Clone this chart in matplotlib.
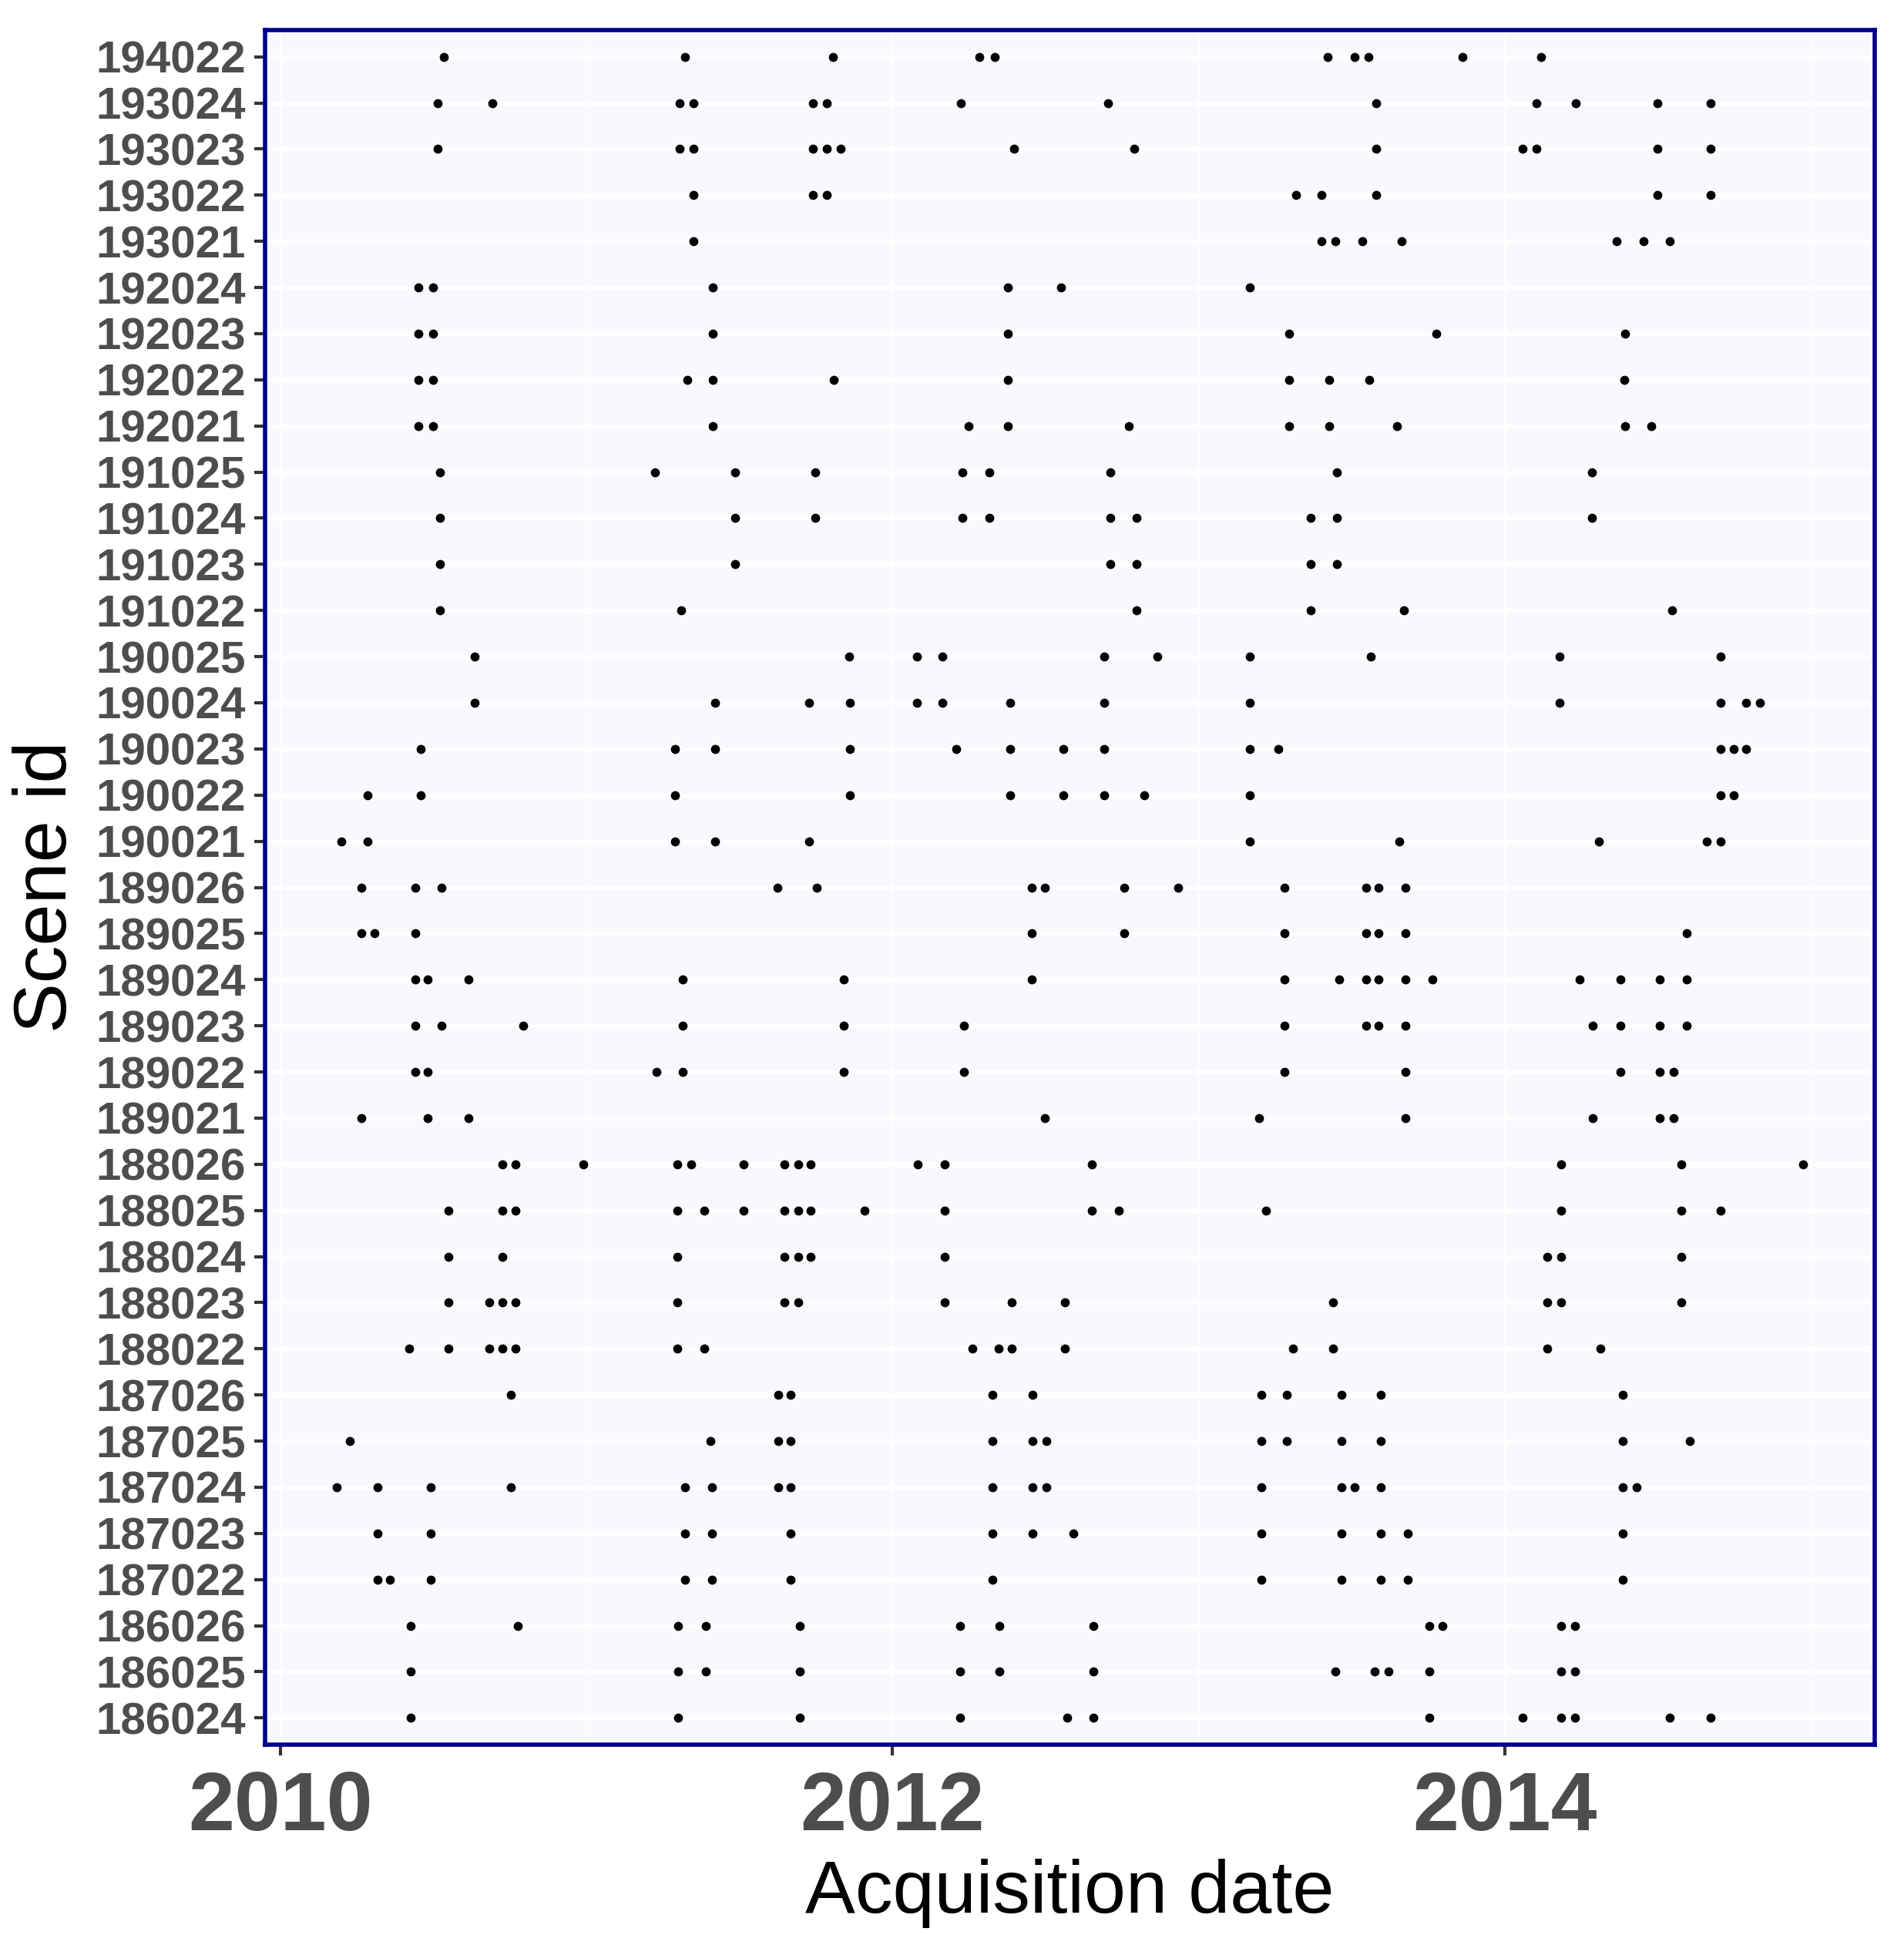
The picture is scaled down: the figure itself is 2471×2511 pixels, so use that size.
import matplotlib
matplotlib.use("Agg")
import matplotlib.pyplot as plt

scene_ids = ["186024", "186025", "186026", "187022", "187023", "187024", "187025", "187026",
             "188022", "188023", "188024", "188025", "188026", "189021", "189022", "189023",
             "189024", "189025", "189026", "190021", "190022", "190023", "190024", "190025",
             "191022", "191023", "191024", "191025", "192021", "192022", "192023", "192024",
             "193021", "193022", "193023", "193024", "194022"]

# acquisition dates as decimal years, one list per scene
d_186024 = [2010.425, 2011.300, 2011.696, 2012.220, 2012.571, 2012.655, 2013.752, 2014.058, 2014.183, 2014.228, 2014.538, 2014.671]
d_186025 = [2010.425, 2011.300, 2011.389, 2011.696, 2012.220, 2012.349, 2012.655, 2013.446, 2013.575, 2013.619, 2013.752, 2014.183, 2014.228]
d_186026 = [2010.425, 2010.776, 2011.300, 2011.389, 2011.696, 2012.220, 2012.349, 2012.655, 2013.752, 2013.796, 2014.183, 2014.228]
d_187022 = [2010.317, 2010.357, 2010.490, 2011.321, 2011.409, 2011.667, 2012.325, 2013.204, 2013.466, 2013.595, 2013.683, 2014.385]
d_187023 = [2010.317, 2010.490, 2011.321, 2011.409, 2011.667, 2012.325, 2012.458, 2012.591, 2013.204, 2013.466, 2013.595, 2013.683, 2014.385]
d_187024 = [2010.183, 2010.317, 2010.490, 2010.752, 2011.321, 2011.409, 2011.627, 2011.667, 2012.325, 2012.458, 2012.502, 2013.204, 2013.466, 2013.510, 2013.595, 2014.385, 2014.429]
d_187025 = [2010.228, 2011.405, 2011.627, 2011.667, 2012.325, 2012.458, 2012.502, 2013.204, 2013.288, 2013.466, 2013.595, 2014.385, 2014.603]
d_187026 = [2010.752, 2011.627, 2011.667, 2012.325, 2012.458, 2013.204, 2013.288, 2013.466, 2013.595, 2014.385]
d_188022 = [2010.421, 2010.550, 2010.683, 2010.724, 2010.768, 2011.296, 2011.385, 2012.260, 2012.345, 2012.389, 2012.562, 2013.308, 2013.438, 2014.139, 2014.313]
d_188023 = [2010.550, 2010.683, 2010.724, 2010.768, 2011.296, 2011.647, 2011.692, 2012.171, 2012.389, 2012.562, 2013.438, 2014.139, 2014.183, 2014.575]
d_188024 = [2010.550, 2010.724, 2011.296, 2011.647, 2011.692, 2011.732, 2012.171, 2014.139, 2014.183, 2014.575]
d_188025 = [2010.550, 2010.724, 2010.768, 2011.296, 2011.385, 2011.514, 2011.647, 2011.692, 2011.732, 2011.909, 2012.171, 2012.651, 2012.740, 2013.220, 2014.183, 2014.575, 2014.704]
d_188026 = [2010.724, 2010.768, 2010.990, 2011.296, 2011.341, 2011.514, 2011.647, 2011.692, 2011.732, 2012.083, 2012.171, 2012.651, 2014.183, 2014.575, 2014.974]
d_189021 = [2010.264, 2010.482, 2010.615, 2012.498, 2013.196, 2013.675, 2014.288, 2014.506, 2014.550]
d_189022 = [2010.442, 2010.482, 2011.228, 2011.313, 2011.841, 2012.232, 2013.280, 2013.675, 2014.377, 2014.506, 2014.550]
d_189023 = [2010.442, 2010.526, 2010.792, 2011.313, 2011.841, 2012.232, 2013.280, 2013.546, 2013.587, 2013.675, 2014.288, 2014.377, 2014.506, 2014.595]
d_189024 = [2010.442, 2010.482, 2010.615, 2011.313, 2011.841, 2012.454, 2013.280, 2013.458, 2013.546, 2013.587, 2013.675, 2013.764, 2014.244, 2014.377, 2014.506, 2014.595]
d_189025 = [2010.264, 2010.308, 2010.442, 2012.454, 2012.756, 2013.280, 2013.546, 2013.587, 2013.675, 2014.595]
d_189026 = [2010.264, 2010.442, 2010.526, 2011.623, 2011.752, 2012.454, 2012.498, 2012.756, 2012.933, 2013.280, 2013.546, 2013.587, 2013.675]
d_190021 = [2010.200, 2010.284, 2011.288, 2011.421, 2011.728, 2013.167, 2013.655, 2014.308, 2014.659, 2014.704]
d_190022 = [2010.284, 2010.458, 2011.288, 2011.861, 2012.385, 2012.558, 2012.692, 2012.821, 2013.167, 2014.704, 2014.748]
d_190023 = [2010.458, 2011.288, 2011.421, 2011.861, 2012.208, 2012.385, 2012.558, 2012.692, 2013.167, 2013.260, 2014.704, 2014.748, 2014.788]
d_190024 = [2010.635, 2011.421, 2011.728, 2011.861, 2012.079, 2012.163, 2012.385, 2012.692, 2013.167, 2014.179, 2014.704, 2014.788, 2014.833]
d_190025 = [2010.635, 2011.857, 2012.079, 2012.163, 2012.692, 2012.865, 2013.167, 2013.563, 2014.179, 2014.704]
d_191022 = [2010.522, 2011.308, 2012.796, 2013.365, 2013.671, 2014.546]
d_191023 = [2010.522, 2011.486, 2012.712, 2012.796, 2013.365, 2013.450]
d_191024 = [2010.522, 2011.486, 2011.748, 2012.228, 2012.317, 2012.712, 2012.796, 2013.365, 2013.450, 2014.284]
d_191025 = [2010.522, 2011.224, 2011.486, 2011.748, 2012.228, 2012.317, 2012.712, 2013.450, 2014.284]
d_192021 = [2010.450, 2010.498, 2011.413, 2012.248, 2012.377, 2012.772, 2013.296, 2013.425, 2013.647, 2014.393, 2014.478]
d_192022 = [2010.450, 2010.498, 2011.329, 2011.413, 2011.808, 2012.377, 2013.296, 2013.425, 2013.558, 2014.389]
d_192023 = [2010.450, 2010.498, 2011.413, 2012.377, 2013.296, 2013.776, 2014.393]
d_192024 = [2010.450, 2010.498, 2011.413, 2012.377, 2012.550, 2013.167]
d_193021 = [2011.349, 2013.401, 2013.446, 2013.534, 2013.663, 2014.365, 2014.454, 2014.538]
d_193022 = [2011.349, 2011.740, 2011.784, 2013.317, 2013.401, 2013.579, 2014.498, 2014.671]
d_193023 = [2010.514, 2011.304, 2011.349, 2011.740, 2011.784, 2011.829, 2012.397, 2012.788, 2013.579, 2014.058, 2014.103, 2014.498, 2014.671]
d_193024 = [2010.514, 2010.692, 2011.304, 2011.349, 2011.740, 2011.784, 2012.224, 2012.704, 2013.579, 2014.103, 2014.232, 2014.498, 2014.671]
d_194022 = [2010.534, 2011.321, 2011.804, 2012.284, 2012.333, 2013.421, 2013.510, 2013.554, 2013.861, 2014.119]

dates_by_scene = [d_186024, d_186025, d_186026, d_187022, d_187023, d_187024, d_187025, d_187026,
                  d_188022, d_188023, d_188024, d_188025, d_188026, d_189021, d_189022, d_189023,
                  d_189024, d_189025, d_189026, d_190021, d_190022, d_190023, d_190024, d_190025,
                  d_191022, d_191023, d_191024, d_191025, d_192021, d_192022, d_192023, d_192024,
                  d_193021, d_193022, d_193023, d_193024, d_194022]

major_years = [2010, 2012, 2014]
minor_years = [2011, 2013, 2015]

W, H = 2471, 2511
plt.rcParams['font.family'] = ['Liberation Sans', 'DejaVu Sans']

fig = plt.figure(figsize=(W / 100, H / 100), dpi=100)
ax = fig.add_axes([344 / W, 1 - 2264 / H, (2433 - 344) / W, (2264 - 39) / H])
ax.set_facecolor('#F8F9FF')

for i, dates in enumerate(dates_by_scene):
    ax.scatter(dates, [i] * len(dates), s=72, color='black', linewidths=0, zorder=3, clip_on=False)

ax.set_xlim(2009.95, 2015.208)
ax.set_ylim(-0.58, 36.58)

ax.set_yticks(range(len(scene_ids)))
ax.set_yticklabels(scene_ids, fontsize=42, fontweight='bold', color='#4D4D4D')
ax.set_xticks(major_years)
ax.set_xticklabels([str(y) for y in major_years], fontsize=77.5, fontweight='bold', color='#4D4D4D')
ax.set_xticks(minor_years, minor=True)

ax.tick_params(axis='both', which='major', length=10, width=3, color='#333333')
ax.tick_params(axis='x', which='major', pad=14)
ax.tick_params(axis='y', which='major', pad=8)
ax.tick_params(axis='x', which='minor', length=0)

ax.set_axisbelow(True)
ax.grid(True, axis='y', which='major', color='white', linewidth=3.6)
ax.grid(True, axis='x', which='major', color='white', linewidth=1.8)
ax.grid(True, axis='x', which='minor', color='white', linewidth=1.4)
for line in ax.get_xgridlines() + ax.get_ygridlines():
    line.set_zorder(1)

for spine in ax.spines.values():
    spine.set_color('#00008B')
    spine.set_linewidth(4)
    spine.set_zorder(0.9)

fig.text(1388 / W, 1 - 2457 / H, 'Acquisition date', fontsize=70, ha='center', va='center', color='black')
fig.text(61 / W, 1 - 1151 / H, 'Scene id', fontsize=70, rotation=90, ha='center', va='center', color='black')

fig.savefig('out.png', dpi=100)
